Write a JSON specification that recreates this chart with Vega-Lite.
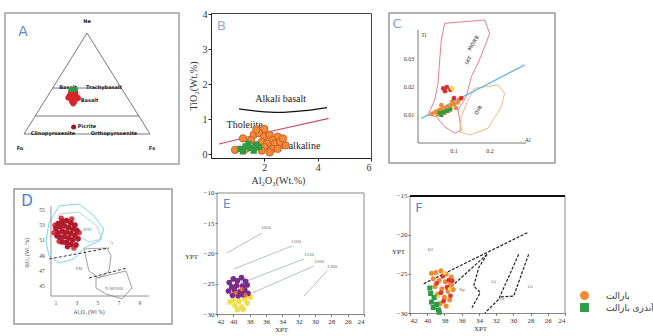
{
  "$schema": "https://vega.github.io/schema/vega-lite/v6.json",
  "background": "white",
  "padding": {"left": 4, "top": 8, "right": 0, "bottom": 0},
  "spacing": 2,
  "config": {
    "view": {"stroke": null},
    "axis": {"grid": false, "labelFont": "Liberation Serif", "titleFont": "Liberation Serif", "titleFontWeight": "normal", "labelColor": "#333", "titleColor": "#333", "domainColor": "#555", "tickColor": "#555", "tickSize": 3, "labelPadding": 1},
    "text": {"font": "Liberation Serif"}
  },
  "datasets": {
    "letters": [
      {"p": "A", "x": -0.008, "y": 1.01},
      {"p": "B", "x": 0.39, "y": 3.66},
      {"p": "C", "x": -0.058, "y": 0.0425},
      {"p": "D", "x": -1.76, "y": 56.18},
      {"p": "E", "x": 40.8, "y": -11.8},
      {"p": "F", "x": 40.95, "y": -16.54}
    ],
    "aLines": [
      {"k": "t", "id": "tri", "o": 0, "x": 0, "y": 0},
      {"k": "t", "id": "tri", "o": 1, "x": 0.5, "y": 1},
      {"k": "t", "id": "tri", "o": 2, "x": 1, "y": 0},
      {"k": "t", "id": "tri", "o": 3, "x": 0, "y": 0},
      {"k": "t", "id": "h1", "o": 0, "x": 0.228, "y": 0.455},
      {"k": "t", "id": "h1", "o": 1, "x": 0.772, "y": 0.455},
      {"k": "t", "id": "h2", "o": 0, "x": 0.089, "y": 0.178},
      {"k": "t", "id": "h2", "o": 1, "x": 0.911, "y": 0.178}
    ],
    "aPts": [
      {"g": "r", "x": 0.37, "y": 0.41}, {"g": "r", "x": 0.39, "y": 0.42}, {"g": "r", "x": 0.41, "y": 0.41},
      {"g": "r", "x": 0.36, "y": 0.38}, {"g": "r", "x": 0.38, "y": 0.385}, {"g": "r", "x": 0.40, "y": 0.38},
      {"g": "r", "x": 0.42, "y": 0.37}, {"g": "r", "x": 0.37, "y": 0.35}, {"g": "r", "x": 0.39, "y": 0.35},
      {"g": "r", "x": 0.41, "y": 0.345}, {"g": "r", "x": 0.38, "y": 0.32}, {"g": "r", "x": 0.40, "y": 0.32},
      {"g": "r", "x": 0.39, "y": 0.30}, {"g": "r", "x": 0.35, "y": 0.36}, {"g": "r", "x": 0.43, "y": 0.355},
      {"g": "d", "x": 0.394, "y": 0.069},
      {"g": "g", "x": 0.37, "y": 0.435}, {"g": "g", "x": 0.39, "y": 0.445}, {"g": "g", "x": 0.41, "y": 0.44}
    ],
    "aText": [
      {"x": 0.5, "y": 1.12, "t": "Ne"},
      {"x": -0.032, "y": -0.139, "t": "Fo"},
      {"x": 1.016, "y": -0.139, "t": "Fs"},
      {"x": 0.35, "y": 0.465, "t": "Basalt"},
      {"x": 0.635, "y": 0.465, "t": "Trachybasalt"},
      {"x": 0.52, "y": 0.337, "t": "Basalt"},
      {"x": 0.5, "y": 0.079, "t": "Picrite"},
      {"x": 0.23, "y": 0.005, "t": "Clinopyroxenite"},
      {"x": 0.714, "y": 0.005, "t": "Orthopyroxenite"}
    ],
    "bLines": [
      {"k": "ab", "o": 0, "x": 1.05, "y": 1.29}, {"k": "ab", "o": 1, "x": 1.8, "y": 1.22},
      {"k": "ab", "o": 2, "x": 2.55, "y": 1.19}, {"k": "ab", "o": 3, "x": 3.5, "y": 1.24},
      {"k": "ab", "o": 4, "x": 4.35, "y": 1.33},
      {"k": "tc", "o": 0, "x": 0.3, "y": 0.29}, {"k": "tc", "o": 1, "x": 2.3, "y": 0.66},
      {"k": "tc", "o": 2, "x": 4.41, "y": 1.02}
    ],
    "bText": [
      {"x": 2.61, "y": 1.57, "t": "Alkali basalt"},
      {"x": 1.26, "y": 0.83, "t": "Tholeiite"},
      {"x": 3.1, "y": 0.24, "t": "Calc-alkaline"}
    ],
    "bPts": [
      {"g": "o", "x": 1.6, "y": 0.55}, {"g": "o", "x": 1.8, "y": 0.6}, {"g": "o", "x": 2.0, "y": 0.5},
      {"g": "o", "x": 2.2, "y": 0.55}, {"g": "o", "x": 2.5, "y": 0.5}, {"g": "o", "x": 2.3, "y": 0.4},
      {"g": "o", "x": 1.9, "y": 0.35}, {"g": "o", "x": 2.1, "y": 0.3}, {"g": "o", "x": 2.4, "y": 0.3},
      {"g": "o", "x": 1.7, "y": 0.25}, {"g": "o", "x": 2.6, "y": 0.35}, {"g": "o", "x": 2.0, "y": 0.2},
      {"g": "o", "x": 2.3, "y": 0.15}, {"g": "o", "x": 1.5, "y": 0.4}, {"g": "o", "x": 1.3, "y": 0.15},
      {"g": "o", "x": 2.7, "y": 0.45}, {"g": "o", "x": 1.9, "y": 0.1}, {"g": "o", "x": 2.2, "y": 0.05},
      {"g": "o", "x": 0.9, "y": 0.12}, {"g": "o", "x": 1.2, "y": 0.45}, {"g": "o", "x": 2.5, "y": 0.15},
      {"g": "o", "x": 1.7, "y": 0.7}, {"g": "o", "x": 2.0, "y": 0.72}, {"g": "o", "x": 2.8, "y": 0.25},
      {"g": "g", "x": 1.1, "y": 0.15}, {"g": "g", "x": 1.3, "y": 0.22}, {"g": "g", "x": 1.5, "y": 0.18},
      {"g": "g", "x": 1.6, "y": 0.1}, {"g": "g", "x": 1.4, "y": 0.3}, {"g": "g", "x": 1.8, "y": 0.2},
      {"g": "g", "x": 1.2, "y": 0.08}, {"g": "g", "x": 1.7, "y": 0.27}
    ],
    "cLines": [
      {"k": "red", "id": "red", "o": 0, "x": 0.0742, "y": 0.04275},
      {"k": "red", "id": "red", "o": 1, "x": 0.1853, "y": 0.04393},
      {"k": "red", "id": "red", "o": 2, "x": 0.1992, "y": 0.03918},
      {"k": "red", "id": "red", "o": 3, "x": 0.1853, "y": 0.03439},
      {"k": "red", "id": "red", "o": 4, "x": 0.1667, "y": 0.02846},
      {"k": "red", "id": "red", "o": 5, "x": 0.1481, "y": 0.02368},
      {"k": "red", "id": "red", "o": 6, "x": 0.1342, "y": 0.01654},
      {"k": "red", "id": "red", "o": 7, "x": 0.1111, "y": 0.01179},
      {"k": "red", "id": "red", "o": 8, "x": 0.1203, "y": 0.00464},
      {"k": "red", "id": "red", "o": 9, "x": 0.1019, "y": 0.00346},
      {"k": "red", "id": "red", "o": 10, "x": 0.0742, "y": 0.00582},
      {"k": "red", "id": "red", "o": 11, "x": 0.0508, "y": 0.00939},
      {"k": "red", "id": "red", "o": 12, "x": 0.0278, "y": 0.0100},
      {"k": "red", "id": "red", "o": 13, "x": 0.0464, "y": 0.01536},
      {"k": "red", "id": "red", "o": 14, "x": 0.0556, "y": 0.02132},
      {"k": "red", "id": "red", "o": 15, "x": 0.0603, "y": 0.02964},
      {"k": "red", "id": "red", "o": 16, "x": 0.0647, "y": 0.03679},
      {"k": "red", "id": "red", "o": 17, "x": 0.0742, "y": 0.04275},
      {"k": "org", "id": "org", "o": 0, "x": 0.1575, "y": 0.01954},
      {"k": "org", "id": "org", "o": 1, "x": 0.2222, "y": 0.02071},
      {"k": "org", "id": "org", "o": 2, "x": 0.2408, "y": 0.01775},
      {"k": "org", "id": "org", "o": 3, "x": 0.2314, "y": 0.01296},
      {"k": "org", "id": "org", "o": 4, "x": 0.1944, "y": 0.00525},
      {"k": "org", "id": "org", "o": 5, "x": 0.1436, "y": 0.00286},
      {"k": "org", "id": "org", "o": 6, "x": 0.1158, "y": 0.00404},
      {"k": "org", "id": "org", "o": 7, "x": 0.1203, "y": 0.00939},
      {"k": "org", "id": "org", "o": 8, "x": 0.1389, "y": 0.01536},
      {"k": "org", "id": "org", "o": 9, "x": 0.1575, "y": 0.01954},
      {"k": "ax", "id": "axy", "o": 0, "x": 0, "y": 0},
      {"k": "ax", "id": "axy", "o": 1, "x": 0, "y": 0.0404},
      {"k": "ax", "id": "axx", "o": 0, "x": 0, "y": 0},
      {"k": "ax", "id": "axx", "o": 1, "x": 0.3, "y": 0},
      {"k": "blue", "id": "blue", "o": 0, "x": 0.0092, "y": 0.00882},
      {"k": "blue", "id": "blue", "o": 1, "x": 0.2964, "y": 0.0279}
    ],
    "cText": [
      {"x": -0.025, "y": 0.03, "t": "0.03"},
      {"x": -0.025, "y": 0.02, "t": "0.02"},
      {"x": -0.025, "y": 0.01, "t": "0.01"},
      {"x": 0.1, "y": -0.0028, "t": "0.1"},
      {"x": 0.2, "y": -0.0028, "t": "0.2"},
      {"x": 0.016, "y": 0.0385, "t": "Ti"},
      {"x": 0.305, "y": 0.0012, "t": "Al"}
    ],
    "cGray": [
      {"x": 0.153, "y": 0.0357, "t": "MORB"},
      {"x": 0.139, "y": 0.0296, "t": "IAT"},
      {"x": 0.1667, "y": 0.0118, "t": "OIB"}
    ],
    "cPts": [
      {"g": "o", "x": 0.04, "y": 0.0105}, {"g": "o", "x": 0.05, "y": 0.0112}, {"g": "o", "x": 0.06, "y": 0.0118},
      {"g": "o", "x": 0.07, "y": 0.0122}, {"g": "o", "x": 0.08, "y": 0.0128}, {"g": "o", "x": 0.09, "y": 0.0133},
      {"g": "o", "x": 0.1, "y": 0.0138}, {"g": "o", "x": 0.11, "y": 0.0145}, {"g": "o", "x": 0.065, "y": 0.0135},
      {"g": "o", "x": 0.085, "y": 0.0115}, {"g": "o", "x": 0.095, "y": 0.0148}, {"g": "o", "x": 0.105, "y": 0.0125},
      {"g": "o", "x": 0.115, "y": 0.0155}, {"g": "o", "x": 0.055, "y": 0.0102}, {"g": "o", "x": 0.075, "y": 0.0108},
      {"g": "r", "x": 0.07, "y": 0.0195}, {"g": "r", "x": 0.08, "y": 0.0200}, {"g": "r", "x": 0.09, "y": 0.0190},
      {"g": "r", "x": 0.075, "y": 0.0185}, {"g": "r", "x": 0.12, "y": 0.016}, {"g": "r", "x": 0.10, "y": 0.016},
      {"g": "g", "x": 0.06, "y": 0.0108}, {"g": "g", "x": 0.07, "y": 0.011}, {"g": "g", "x": 0.08, "y": 0.0115},
      {"g": "g", "x": 0.065, "y": 0.0100}, {"g": "g", "x": 0.09, "y": 0.012},
      {"g": "y", "x": 0.095, "y": 0.0195}
    ],
    "dLines": [
      {"k": "ax", "id": "axy", "o": 0, "x": 0.52, "y": 43.68}, {"k": "ax", "id": "axy", "o": 1, "x": 0.52, "y": 55.5},
      {"k": "ax", "id": "axx", "o": 0, "x": 0.52, "y": 43.68}, {"k": "ax", "id": "axx", "o": 1, "x": 9.86, "y": 43.68},
      {"k": "cy", "id": "c1", "o": 0, "x": 1.286, "y": 55.53}, {"k": "cy", "id": "c1", "o": 1, "x": 3.19, "y": 55.79},
      {"k": "cy", "id": "c1", "o": 2, "x": 4.62, "y": 54.21}, {"k": "cy", "id": "c1", "o": 3, "x": 5.57, "y": 52.5},
      {"k": "cy", "id": "c1", "o": 4, "x": 5.1, "y": 50.92}, {"k": "cy", "id": "c1", "o": 5, "x": 3.67, "y": 50.0},
      {"k": "cy", "id": "c1", "o": 6, "x": 2.71, "y": 48.55}, {"k": "cy", "id": "c1", "o": 7, "x": 1.29, "y": 48.03},
      {"k": "cy", "id": "c1", "o": 8, "x": 0.33, "y": 48.95}, {"k": "cy", "id": "c1", "o": 9, "x": 0.05, "y": 50.92},
      {"k": "cy", "id": "c1", "o": 10, "x": 0.33, "y": 53.29}, {"k": "cy", "id": "c1", "o": 11, "x": 1.286, "y": 55.53},
      {"k": "lb", "id": "c2", "o": 0, "x": 1.286, "y": 54.47}, {"k": "lb", "id": "c2", "o": 1, "x": 3.19, "y": 54.74},
      {"k": "lb", "id": "c2", "o": 2, "x": 4.9, "y": 52.89}, {"k": "lb", "id": "c2", "o": 3, "x": 5.38, "y": 51.18},
      {"k": "lb", "id": "c2", "o": 4, "x": 4.14, "y": 50.79}, {"k": "lb", "id": "c2", "o": 5, "x": 3.0, "y": 51.71},
      {"k": "lb", "id": "c2", "o": 6, "x": 1.48, "y": 52.37}, {"k": "lb", "id": "c2", "o": 7, "x": 1.286, "y": 54.47},
      {"k": "gr", "id": "g1", "o": 0, "x": 3.67, "y": 49.87}, {"k": "gr", "id": "g1", "o": 1, "x": 5.86, "y": 50.0},
      {"k": "gr", "id": "g1", "o": 2, "x": 6.24, "y": 48.95}, {"k": "gr", "id": "g1", "o": 3, "x": 6.05, "y": 46.97},
      {"k": "gr", "id": "g1", "o": 4, "x": 5.1, "y": 46.05}, {"k": "gr", "id": "g1", "o": 5, "x": 4.14, "y": 46.97},
      {"k": "gr", "id": "g1", "o": 6, "x": 3.67, "y": 49.87},
      {"k": "gr", "id": "g2", "o": 0, "x": 4.81, "y": 46.05}, {"k": "gr", "id": "g2", "o": 1, "x": 7.67, "y": 46.97},
      {"k": "gr", "id": "g2", "o": 2, "x": 8.24, "y": 44.74}, {"k": "gr", "id": "g2", "o": 3, "x": 7.29, "y": 43.29},
      {"k": "gr", "id": "g2", "o": 4, "x": 5.76, "y": 43.95}, {"k": "gr", "id": "g2", "o": 5, "x": 4.81, "y": 44.74},
      {"k": "gr", "id": "g2", "o": 6, "x": 4.81, "y": 46.05},
      {"k": "da", "id": "d1", "o": 0, "x": 0.33, "y": 48.55}, {"k": "da", "id": "d1", "o": 1, "x": 6.05, "y": 50.0},
      {"k": "da", "id": "d2", "o": 0, "x": 4.14, "y": 46.05}, {"k": "da", "id": "d2", "o": 1, "x": 7.76, "y": 47.37}
    ],
    "dText": [
      {"x": -0.333, "y": 55, "t": "55"}, {"x": -0.333, "y": 53, "t": "53"}, {"x": -0.333, "y": 51, "t": "51"},
      {"x": -0.333, "y": 49, "t": "49"}, {"x": -0.333, "y": 47, "t": "47"}, {"x": -0.333, "y": 45, "t": "45"},
      {"x": 1, "y": 42.76, "t": "1"}, {"x": 3, "y": 42.76, "t": "3"}, {"x": 5, "y": 42.76, "t": "5"},
      {"x": 7, "y": 42.76, "t": "7"}, {"x": 9, "y": 42.76, "t": "9"},
      {"x": 4.14, "y": 41.6, "t": "Al₂O₃ (Wt %)"}
    ],
    "dTitle": [{"x": -1.76, "y": 49.34, "t": "SiO₂ (Wt. %)"}],
    "dGray": [
      {"x": 4.0, "y": 52.4, "t": "SHO"},
      {"x": 6.3, "y": 50.6, "t": "A"},
      {"x": 3.19, "y": 47.24, "t": "PM"},
      {"x": 6.52, "y": 44.6, "t": "N-MORB"}
    ],
    "dPts": [
      {"g": "d", "x": 1.2, "y": 53.2}, {"g": "d", "x": 1.6, "y": 53.5}, {"g": "d", "x": 2.0, "y": 53.6},
      {"g": "d", "x": 2.4, "y": 53.3}, {"g": "d", "x": 2.8, "y": 53.0}, {"g": "d", "x": 1.0, "y": 52.6},
      {"g": "d", "x": 1.4, "y": 52.8}, {"g": "d", "x": 1.8, "y": 52.9}, {"g": "d", "x": 2.2, "y": 52.7},
      {"g": "d", "x": 2.6, "y": 52.5}, {"g": "d", "x": 3.0, "y": 52.3}, {"g": "d", "x": 1.2, "y": 52.0},
      {"g": "d", "x": 1.6, "y": 52.2}, {"g": "d", "x": 2.0, "y": 52.1}, {"g": "d", "x": 2.4, "y": 51.9},
      {"g": "d", "x": 2.8, "y": 51.7}, {"g": "d", "x": 1.4, "y": 51.4}, {"g": "d", "x": 1.8, "y": 51.5},
      {"g": "d", "x": 2.2, "y": 51.3}, {"g": "d", "x": 2.6, "y": 51.1}, {"g": "d", "x": 3.1, "y": 51.2},
      {"g": "d", "x": 1.6, "y": 50.8}, {"g": "d", "x": 2.0, "y": 50.7}, {"g": "d", "x": 2.4, "y": 50.5},
      {"g": "d", "x": 2.9, "y": 50.4}, {"g": "d", "x": 1.1, "y": 51.6}, {"g": "d", "x": 2.1, "y": 50.2},
      {"g": "l", "x": 0.9, "y": 53.0}, {"g": "l", "x": 1.3, "y": 50.9}, {"g": "l", "x": 2.7, "y": 50.0},
      {"g": "l", "x": 3.2, "y": 52.0}, {"g": "l", "x": 1.5, "y": 53.9}, {"g": "l", "x": 2.5, "y": 53.8},
      {"g": "l", "x": 0.8, "y": 52.0}
    ],
    "eFrame": [
      {"id": "top", "o": 0, "x": 42, "y": -10}, {"id": "top", "o": 1, "x": 24, "y": -10},
      {"id": "right", "o": 0, "x": 24, "y": -10}, {"id": "right", "o": 1, "x": 24, "y": -30},
      {"id": "left", "o": 0, "x": 42, "y": -10}, {"id": "left", "o": 1, "x": 42, "y": -30}
    ],
    "eLines": [
      {"id": "1", "o": 0, "x": 40.78, "y": -19.92}, {"id": "1", "o": 1, "x": 36.49, "y": -16.61},
      {"id": "2", "o": 0, "x": 39.92, "y": -22.56}, {"id": "2", "o": 1, "x": 32.82, "y": -18.76},
      {"id": "3", "o": 0, "x": 39.06, "y": -24.88}, {"id": "3", "o": 1, "x": 31.35, "y": -20.91},
      {"id": "4", "o": 0, "x": 37.71, "y": -26.53}, {"id": "4", "o": 1, "x": 30.12, "y": -22.07},
      {"id": "5", "o": 0, "x": 31.35, "y": -27.02}, {"id": "5", "o": 1, "x": 28.53, "y": -22.89}
    ],
    "eText": [
      {"x": 36.0, "y": -15.62, "t": "1050"},
      {"x": 32.33, "y": -17.93, "t": "1100"},
      {"x": 30.73, "y": -20.08, "t": "1150"},
      {"x": 29.51, "y": -21.24, "t": "1200"},
      {"x": 27.92, "y": -22.07, "t": "1300"}
    ],
    "ePts": [
      {"g": "p", "x": 40.5, "y": -24.8}, {"g": "p", "x": 40.0, "y": -24.2}, {"g": "p", "x": 39.5, "y": -24.5},
      {"g": "p", "x": 39.0, "y": -24.0}, {"g": "p", "x": 38.5, "y": -24.6}, {"g": "p", "x": 40.2, "y": -25.5},
      {"g": "p", "x": 39.6, "y": -25.3}, {"g": "p", "x": 38.9, "y": -25.4}, {"g": "p", "x": 38.3, "y": -25.2},
      {"g": "p", "x": 40.6, "y": -26.2}, {"g": "p", "x": 39.9, "y": -26.0}, {"g": "p", "x": 39.2, "y": -26.3},
      {"g": "p", "x": 38.6, "y": -26.0}, {"g": "p", "x": 40.1, "y": -26.9}, {"g": "p", "x": 39.4, "y": -27.0},
      {"g": "p", "x": 38.8, "y": -26.8}, {"g": "p", "x": 38.2, "y": -26.6},
      {"g": "y", "x": 40.0, "y": -27.6}, {"g": "y", "x": 39.3, "y": -27.9}, {"g": "y", "x": 38.6, "y": -27.5},
      {"g": "y", "x": 39.8, "y": -28.6}, {"g": "y", "x": 39.0, "y": -28.8}, {"g": "y", "x": 38.3, "y": -28.2},
      {"g": "y", "x": 40.4, "y": -28.0}, {"g": "y", "x": 38.8, "y": -29.2}, {"g": "y", "x": 39.5, "y": -29.3},
      {"g": "y", "x": 37.9, "y": -27.2},
      {"g": "o", "x": 39.7, "y": -26.5}, {"g": "o", "x": 39.0, "y": -25.9}, {"g": "o", "x": 38.5, "y": -26.9}
    ],
    "fLines": [
      {"k": "top", "id": "top", "o": 0, "x": 42, "y": -15}, {"k": "top", "id": "top", "o": 1, "x": 24, "y": -15},
      {"k": "fr", "id": "right", "o": 0, "x": 24, "y": -15}, {"k": "fr", "id": "right", "o": 1, "x": 24, "y": -30},
      {"k": "fr", "id": "left", "o": 0, "x": 42, "y": -15}, {"k": "fr", "id": "left", "o": 1, "x": 42, "y": -30},
      {"k": "d", "id": "d1", "o": 0, "x": 40.41, "y": -26.24}, {"k": "d", "id": "d1", "o": 1, "x": 28.22, "y": -19.62},
      {"k": "d", "id": "d2", "o": 0, "x": 33.06, "y": -22.48}, {"k": "d", "id": "d2", "o": 1, "x": 37.12, "y": -26.54},
      {"k": "d", "id": "d3", "o": 0, "x": 33.06, "y": -22.48}, {"k": "d", "id": "d3", "o": 1, "x": 34.02, "y": -24.19},
      {"k": "d", "id": "d3", "o": 2, "x": 34.6, "y": -26.54}, {"k": "d", "id": "d3", "o": 3, "x": 33.84, "y": -27.39},
      {"k": "d", "id": "d3", "o": 4, "x": 34.8, "y": -29.32},
      {"k": "d", "id": "d4", "o": 0, "x": 29.38, "y": -22.48}, {"k": "d", "id": "d4", "o": 1, "x": 31.7, "y": -28.24},
      {"k": "d", "id": "d4", "o": 2, "x": 33.3, "y": -30},
      {"k": "d", "id": "d5", "o": 0, "x": 28.22, "y": -22.48}, {"k": "d", "id": "d5", "o": 1, "x": 29.96, "y": -27.82},
      {"k": "d", "id": "d5", "o": 2, "x": 31.51, "y": -27.95}
    ],
    "fText": [
      {"x": 35.96, "y": -26.92, "t": "Sp"},
      {"x": 32.28, "y": -25.9, "t": "Gt"},
      {"x": 31.32, "y": -28.04, "t": "Gt"},
      {"x": 28.03, "y": -26.54, "t": "Gt"},
      {"x": 39.64, "y": -21.83, "t": "Ol"}
    ],
    "fPts": [
      {"rock": "بازالت", "x": 39.0, "y": -24.8}, {"rock": "بازالت", "x": 38.4, "y": -24.6},
      {"rock": "بازالت", "x": 37.8, "y": -25.0}, {"rock": "بازالت", "x": 37.2, "y": -25.4},
      {"rock": "بازالت", "x": 39.3, "y": -25.6}, {"rock": "بازالت", "x": 38.6, "y": -25.8},
      {"rock": "بازالت", "x": 37.9, "y": -26.0}, {"rock": "بازالت", "x": 37.3, "y": -26.4},
      {"rock": "بازالت", "x": 39.1, "y": -26.6}, {"rock": "بازالت", "x": 38.3, "y": -26.9},
      {"rock": "بازالت", "x": 37.6, "y": -27.2}, {"rock": "بازالت", "x": 37.0, "y": -27.0},
      {"rock": "بازالت", "x": 38.8, "y": -27.6}, {"rock": "بازالت", "x": 38.0, "y": -28.0},
      {"rock": "بازالت", "x": 37.4, "y": -28.3}, {"rock": "بازالت", "x": 38.5, "y": -28.8},
      {"rock": "بازالت", "x": 37.8, "y": -29.1}, {"rock": "بازالت", "x": 39.5, "y": -24.9},
      {"rock": "آندزی بازالت", "x": 39.6, "y": -27.5}, {"rock": "آندزی بازالت", "x": 39.2, "y": -28.0},
      {"rock": "آندزی بازالت", "x": 39.5, "y": -28.6}, {"rock": "آندزی بازالت", "x": 38.9, "y": -28.9},
      {"rock": "آندزی بازالت", "x": 39.3, "y": -29.3}, {"rock": "آندزی بازالت", "x": 38.7, "y": -29.6},
      {"rock": "آندزی بازالت", "x": 39.7, "y": -26.8}, {"rock": "آندزی بازالت", "x": 38.6, "y": -29.9},
      {"rock": "red", "x": 38.2, "y": -25.3}, {"rock": "red", "x": 37.5, "y": -25.8},
      {"rock": "red", "x": 38.9, "y": -26.2}, {"rock": "red", "x": 37.7, "y": -26.7},
      {"rock": "red", "x": 38.4, "y": -27.4}, {"rock": "red", "x": 37.3, "y": -27.8},
      {"rock": "red", "x": 38.1, "y": -28.5}, {"rock": "red", "x": 37.1, "y": -25.9},
      {"rock": "yellow", "x": 38.0, "y": -24.9}, {"rock": "yellow", "x": 37.4, "y": -26.9},
      {"rock": "yellow", "x": 38.7, "y": -27.9}
    ]
  },
  "vconcat": [
    {
      "spacing": 7,
      "hconcat": [
        {
          "width": 174, "height": 151,
          "view": {"stroke": "#a0a0a0", "strokeWidth": 1.5},
          "encoding": {
            "x": {"field": "x", "type": "quantitative", "scale": {"domain": [-0.1508, 1.23]}, "axis": null},
            "y": {"field": "y", "type": "quantitative", "scale": {"domain": [-0.297, 1.198]}, "axis": null}
          },
          "layer": [
            {"data": {"name": "aLines"}, "mark": {"type": "line", "color": "#555", "strokeWidth": 0.8}, "encoding": {"detail": {"field": "id"}, "order": {"field": "o"}}},
            {"data": {"name": "aText"}, "mark": {"type": "text", "fontSize": 5, "color": "#222", "font": "DejaVu Sans", "fontWeight": "bold"}, "encoding": {"text": {"field": "t"}}},
            {"data": {"name": "aPts"}, "transform": [{"filter": "datum.g == 'r'"}], "mark": {"type": "circle", "color": "#d8232a", "size": 30, "opacity": 1}},
            {"data": {"name": "aPts"}, "transform": [{"filter": "datum.g == 'd'"}], "mark": {"type": "circle", "color": "#a01a20", "size": 25, "opacity": 1}},
            {"data": {"name": "aPts"}, "transform": [{"filter": "datum.g == 'g'"}], "mark": {"type": "square", "color": "#2f9a45", "size": 20, "opacity": 1}},
            {"data": {"name": "letters"}, "transform": [{"filter": "datum.p == 'A'"}], "mark": {"type": "text", "fontSize": 14, "color": "#5b8cc4", "font": "DejaVu Sans"}, "encoding": {"text": {"field": "p"}}}
          ]
        },
        {
          "spacing": 16,
          "hconcat": [
            {
              "width": 160, "height": 145,
              "view": {"stroke": "#444", "strokeWidth": 1},
              "encoding": {
                "x": {"field": "x", "type": "quantitative", "scale": {"domain": [0, 6]}, "axis": {"values": [2, 4, 6], "title": "Al₂O₃(Wt.%)", "labelFontSize": 10, "titleFontSize": 10, "domainColor": "#222", "tickColor": "#222", "titleX": 67, "titlePadding": 3}},
                "y": {"field": "y", "type": "quantitative", "scale": {"domain": [-0.11, 4.03]}, "axis": {"values": [0, 1, 2, 3, 4], "title": "TiO₂(Wt.%)", "labelFontSize": 10, "titleFontSize": 10, "domainColor": "#222", "tickColor": "#222", "titlePadding": 4}}
              },
              "layer": [
                {"data": {"name": "bLines"}, "transform": [{"filter": "datum.k == 'ab'"}], "mark": {"type": "line", "color": "#111", "strokeWidth": 1.3, "interpolate": "monotone"}, "encoding": {"order": {"field": "o"}}},
                {"data": {"name": "bLines"}, "transform": [{"filter": "datum.k == 'tc'"}], "mark": {"type": "line", "color": "#c84a68", "strokeWidth": 1.1, "interpolate": "monotone"}, "encoding": {"order": {"field": "o"}}},
                {"data": {"name": "bText"}, "mark": {"type": "text", "fontSize": 10, "color": "#222"}, "encoding": {"text": {"field": "t"}}},
                {"data": {"name": "bPts"}, "transform": [{"filter": "datum.g == 'o'"}], "mark": {"type": "point", "shape": "circle", "filled": true, "fill": "#ef8a35", "stroke": "#c8502a", "strokeWidth": 0.8, "size": 55, "opacity": 1}},
                {"data": {"name": "bPts"}, "transform": [{"filter": "datum.g == 'g'"}], "mark": {"type": "square", "color": "#2e9b45", "size": 40, "opacity": 1}},
                {"data": {"name": "letters"}, "transform": [{"filter": "datum.p == 'B'"}], "mark": {"type": "text", "fontSize": 13, "color": "#8fb0d8", "font": "DejaVu Sans"}, "encoding": {"text": {"field": "p"}}}
              ]
            },
            {
              "width": 166, "height": 150,
              "view": {"stroke": "#999", "strokeWidth": 1.5},
              "encoding": {
                "x": {"field": "x", "type": "quantitative", "scale": {"domain": [-0.0806, 0.3806]}, "axis": null},
                "y": {"field": "y", "type": "quantitative", "scale": {"domain": [-0.00714, 0.04643]}, "axis": null}
              },
              "layer": [
                {"data": {"name": "cLines"}, "transform": [{"filter": "datum.k == 'red'"}], "mark": {"type": "line", "color": "#e07078", "strokeWidth": 0.9}, "encoding": {"detail": {"field": "id"}, "order": {"field": "o"}}},
                {"data": {"name": "cLines"}, "transform": [{"filter": "datum.k == 'org'"}], "mark": {"type": "line", "color": "#f0b070", "strokeWidth": 0.9}, "encoding": {"detail": {"field": "id"}, "order": {"field": "o"}}},
                {"data": {"name": "cLines"}, "transform": [{"filter": "datum.k == 'ax'"}], "mark": {"type": "line", "color": "#666", "strokeWidth": 0.9}, "encoding": {"detail": {"field": "id"}, "order": {"field": "o"}}},
                {"data": {"name": "cLines"}, "transform": [{"filter": "datum.k == 'blue'"}], "mark": {"type": "line", "color": "#6cb4e4", "strokeWidth": 1.3}, "encoding": {"detail": {"field": "id"}, "order": {"field": "o"}}},
                {"data": {"name": "cGray"}, "mark": {"type": "text", "fontSize": 5, "color": "#777", "angle": 300, "font": "DejaVu Sans", "fontWeight": "bold"}, "encoding": {"text": {"field": "t"}}},
                {"data": {"name": "cText"}, "mark": {"type": "text", "fontSize": 6, "color": "#333"}, "encoding": {"text": {"field": "t"}}},
                {"data": {"name": "cPts"}, "transform": [{"filter": "datum.g == 'o'"}], "mark": {"type": "circle", "color": "#ef8a35", "size": 22, "opacity": 1}},
                {"data": {"name": "cPts"}, "transform": [{"filter": "datum.g == 'r'"}], "mark": {"type": "circle", "color": "#d8303a", "size": 22, "opacity": 1}},
                {"data": {"name": "cPts"}, "transform": [{"filter": "datum.g == 'g'"}], "mark": {"type": "square", "color": "#2e9b45", "size": 16, "opacity": 1}},
                {"data": {"name": "cPts"}, "transform": [{"filter": "datum.g == 'y'"}], "mark": {"type": "circle", "color": "#f2dc40", "size": 22, "opacity": 1}},
                {"data": {"name": "letters"}, "transform": [{"filter": "datum.p == 'C'"}], "mark": {"type": "text", "fontSize": 13, "color": "#7aa0cc", "font": "DejaVu Sans"}, "encoding": {"text": {"field": "p"}}}
              ]
            }
          ]
        }
      ]
    },
    {
      "spacing": 7,
      "hconcat": [
        {"width": 1, "height": 1, "view": {"fill": "white", "stroke": null}, "data": {"values": [{"x": 0}]}, "mark": {"type": "point", "opacity": 0, "size": 0}, "encoding": {}},
        {
          "spacing": 11,
          "hconcat": [
            {
              "width": 158, "height": 135,
              "view": {"stroke": "#999", "strokeWidth": 1.5},
              "encoding": {
                "x": {"field": "x", "type": "quantitative", "scale": {"domain": [-3.0, 12.05]}, "axis": null},
                "y": {"field": "y", "type": "quantitative", "scale": {"domain": [40.0, 57.76]}, "axis": null}
              },
              "layer": [
                {"data": {"name": "dLines"}, "transform": [{"filter": "datum.k == 'lb'"}], "mark": {"type": "line", "color": "#9fd4ea", "strokeWidth": 0.9}, "encoding": {"detail": {"field": "id"}, "order": {"field": "o"}}},
                {"data": {"name": "dLines"}, "transform": [{"filter": "datum.k == 'cy'"}], "mark": {"type": "line", "color": "#6fd0dc", "strokeWidth": 0.9}, "encoding": {"detail": {"field": "id"}, "order": {"field": "o"}}},
                {"data": {"name": "dLines"}, "transform": [{"filter": "datum.k == 'gr'"}], "mark": {"type": "line", "color": "#888", "strokeWidth": 0.8}, "encoding": {"detail": {"field": "id"}, "order": {"field": "o"}}},
                {"data": {"name": "dLines"}, "transform": [{"filter": "datum.k == 'da'"}], "mark": {"type": "line", "color": "#333", "strokeWidth": 1, "strokeDash": [3, 2]}, "encoding": {"detail": {"field": "id"}, "order": {"field": "o"}}},
                {"data": {"name": "dLines"}, "transform": [{"filter": "datum.k == 'ax'"}], "mark": {"type": "line", "color": "#777", "strokeWidth": 0.8}, "encoding": {"detail": {"field": "id"}, "order": {"field": "o"}}},
                {"data": {"name": "dText"}, "mark": {"type": "text", "fontSize": 5.5, "color": "#444"}, "encoding": {"text": {"field": "t"}}},
                {"data": {"name": "dTitle"}, "mark": {"type": "text", "fontSize": 5.5, "color": "#444", "angle": 270}, "encoding": {"text": {"field": "t"}}},
                {"data": {"name": "dGray"}, "mark": {"type": "text", "fontSize": 4.5, "color": "#777"}, "encoding": {"text": {"field": "t"}}},
                {"data": {"name": "dPts"}, "transform": [{"filter": "datum.g == 'l'"}], "mark": {"type": "circle", "color": "#e23a3f", "size": 30, "opacity": 1}},
                {"data": {"name": "dPts"}, "transform": [{"filter": "datum.g == 'd'"}], "mark": {"type": "circle", "color": "#b01c2e", "size": 32, "opacity": 1}},
                {"data": {"name": "letters"}, "transform": [{"filter": "datum.p == 'D'"}], "mark": {"type": "text", "fontSize": 15, "color": "#4a80c0", "font": "DejaVu Sans"}, "encoding": {"text": {"field": "p"}}}
              ]
            },
            {
              "spacing": 25,
              "hconcat": [
                {
                  "width": 147, "height": 125,
                  "encoding": {
                    "x": {"field": "x", "type": "quantitative", "scale": {"domain": [42, 24]}, "axis": {"values": [42, 40, 38, 36, 34, 32, 30, 28, 26, 24], "title": "XPT", "labelFontSize": 7, "titleFontSize": 7, "labelOverlap": false, "titleX": 64, "tickSize": 2, "titlePadding": 1, "domainColor": "#888"}},
                    "y": {"field": "y", "type": "quantitative", "scale": {"domain": [-30, -9.339]}, "axis": {"values": [-30, -25, -20, -15, -10], "title": "YPT", "domain": false, "titleAngle": 0, "titleX": -26, "titleY": 67, "titleAlign": "center", "titleBaseline": "middle", "labelFontSize": 7, "titleFontSize": 7, "tickSize": 2}}
                  },
                  "layer": [
                    {"data": {"name": "eFrame"}, "mark": {"type": "line", "color": "#888", "strokeWidth": 1}, "encoding": {"detail": {"field": "id"}, "order": {"field": "o"}}},
                    {"data": {"name": "eLines"}, "mark": {"type": "line", "color": "#b5bec8", "strokeWidth": 1}, "encoding": {"detail": {"field": "id"}, "order": {"field": "o"}}},
                    {"data": {"name": "eText"}, "mark": {"type": "text", "fontSize": 5, "color": "#666"}, "encoding": {"text": {"field": "t"}}},
                    {"data": {"name": "ePts"}, "transform": [{"filter": "datum.g == 'y'"}], "mark": {"type": "circle", "color": "#efe04a", "size": 32, "opacity": 1}},
                    {"data": {"name": "ePts"}, "transform": [{"filter": "datum.g == 'p'"}], "mark": {"type": "circle", "color": "#7a2c8c", "size": 32, "opacity": 1}},
                    {"data": {"name": "ePts"}, "transform": [{"filter": "datum.g == 'o'"}], "mark": {"type": "circle", "color": "#e8702a", "size": 18, "opacity": 1}},
                    {"data": {"name": "letters"}, "transform": [{"filter": "datum.p == 'E'"}], "mark": {"type": "text", "fontSize": 12, "color": "#5b8cc4", "font": "DejaVu Sans"}, "encoding": {"text": {"field": "p"}}}
                  ]
                },
                {
                  "width": 155, "height": 124,
                  "encoding": {
                    "x": {"field": "x", "type": "quantitative", "scale": {"domain": [42, 24]}, "axis": {"values": [42, 40, 38, 36, 34, 32, 30, 28, 26, 24], "title": "XPT", "labelFontSize": 7, "titleFontSize": 7, "labelOverlap": false, "titleX": 70, "tickSize": 2, "titlePadding": 1, "domainColor": "#888"}},
                    "y": {"field": "y", "type": "quantitative", "scale": {"domain": [-30, -14.103]}, "axis": {"values": [-30, -25, -20, -15], "title": "YPT", "domain": false, "titleAngle": 0, "titleX": -12, "titleY": 62, "titleAlign": "center", "titleBaseline": "middle", "labelFontSize": 7, "titleFontSize": 7, "tickSize": 2}}
                  },
                  "layer": [
                    {"data": {"name": "fLines"}, "transform": [{"filter": "datum.k == 'fr'"}], "mark": {"type": "line", "color": "#888", "strokeWidth": 1}, "encoding": {"detail": {"field": "id"}, "order": {"field": "o"}}},
                    {"data": {"name": "fLines"}, "transform": [{"filter": "datum.k == 'top'"}], "mark": {"type": "line", "color": "#111", "strokeWidth": 2}, "encoding": {"detail": {"field": "id"}, "order": {"field": "o"}}},
                    {"data": {"name": "fLines"}, "transform": [{"filter": "datum.k == 'd'"}], "mark": {"type": "line", "color": "#222", "strokeWidth": 1.2, "strokeDash": [3, 1.5]}, "encoding": {"detail": {"field": "id"}, "order": {"field": "o"}}},
                    {"data": {"name": "fText"}, "mark": {"type": "text", "fontSize": 5, "color": "#666"}, "encoding": {"text": {"field": "t"}}},
                    {
                      "data": {"name": "fPts"},
                      "transform": [{"filter": "datum.rock != 'red' && datum.rock != 'yellow'"}],
                      "mark": {"type": "point", "filled": true, "size": 26, "opacity": 1},
                      "encoding": {
                        "color": {"field": "rock", "type": "nominal", "scale": {"domain": ["بازالت", "آندزی بازالت"], "range": ["#ef8a35", "#2e9b45"]},
                          "legend": {"orient": "none", "legendX": 574, "legendY": 277, "title": null, "labelFont": "DejaVu Sans", "labelFontSize": 9, "labelColor": "#333", "symbolSize": 80, "rowPadding": 1, "labelOffset": 16}},
                        "shape": {"field": "rock", "type": "nominal", "scale": {"domain": ["بازالت", "آندزی بازالت"], "range": ["circle", "square"]},
                          "legend": {"orient": "none", "legendX": 574, "legendY": 277, "title": null, "labelFont": "DejaVu Sans", "labelFontSize": 9, "labelColor": "#333", "symbolSize": 80, "rowPadding": 1, "labelOffset": 16}}
                      }
                    },
                    {"data": {"name": "fPts"}, "transform": [{"filter": "datum.rock == 'red'"}], "mark": {"type": "circle", "color": "#d83a30", "size": 24, "opacity": 1}},
                    {"data": {"name": "fPts"}, "transform": [{"filter": "datum.rock == 'yellow'"}], "mark": {"type": "circle", "color": "#f2dc50", "size": 14, "opacity": 1}},
                    {"data": {"name": "letters"}, "transform": [{"filter": "datum.p == 'F'"}], "mark": {"type": "text", "fontSize": 13, "color": "#5b8cc4", "font": "DejaVu Sans"}, "encoding": {"text": {"field": "p"}}}
                  ]
                }
              ]
            }
          ]
        }
      ]
    }
  ]
}
